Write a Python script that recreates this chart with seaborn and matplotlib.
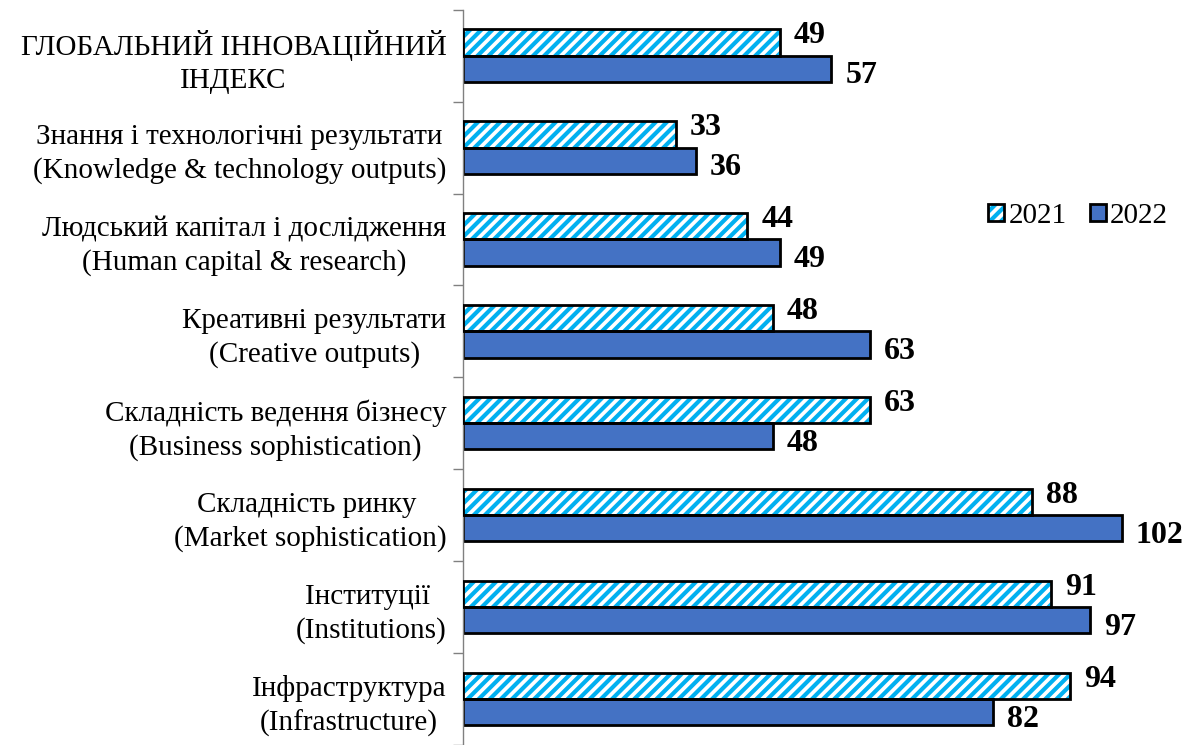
import numpy as np
import pandas as pd
import matplotlib
matplotlib.use("Agg")
import matplotlib.pyplot as plt
from matplotlib.patches import Rectangle, Patch
from matplotlib.legend_handler import HandlerTuple
from matplotlib.ticker import FixedLocator, NullLocator
import seaborn as sns

# ===== DATA =====
categories = [
    "ГЛОБАЛЬНИЙ ІННОВАЦІЙНИЙ\nІНДЕКС",
    "Знання і технологічні результати\n(Knowledge & technology outputs)",
    "Людський капітал і дослідження\n(Human capital & research)",
    "Креативні результати\n(Creative outputs)",
    "Складність ведення бізнесу\n(Business sophistication)",
    "Складність ринку \n(Market sophistication)",
    "Інституції \n(Institutions)",
    "Інфраструктура\n(Infrastructure)",
]
years = ["2021", "2022"]
values_2021 = [49, 33, 44, 48, 63, 88, 91, 94]
values_2022 = [57, 36, 49, 63, 48, 102, 97, 82]

# ===== STYLE =====
sns.set_theme(style="white")
plt.rcParams["font.family"] = ["Liberation Serif", "DejaVu Serif"]
plt.rcParams["text.color"] = "black"
plt.rcParams["hatch.linewidth"] = 3.0

hatch_blue = "#00B0F0"
solid_blue = "#4472C4"

df = pd.DataFrame({
    "category": categories * 2,
    "value": values_2021 + values_2022,
    "year": [years[0]] * len(categories) + [years[1]] * len(categories),
})

fig = plt.figure(figsize=(11.88, 7.45), dpi=100)
ax = fig.add_axes([463 / 1188, 0.0, 1 - 463 / 1188, 0.987])

sns.barplot(
    data=df, y="category", x="value", hue="year", orient="h",
    palette={years[0]: "white", years[1]: solid_blue}, saturation=1,
    width=0.57, edgecolor="black", linewidth=2, ax=ax, legend=False,
)

# hatched 2021 bars: blue hatch with a black outline on top
for p in ax.containers[0]:
    p.set_facecolor("white")
    p.set_edgecolor(hatch_blue)
    p.set_hatch("///")
    p.set_linewidth(0)
    ax.add_patch(Rectangle(p.get_xy(), p.get_width(), p.get_height(),
                           fill=False, edgecolor="black", linewidth=2, zorder=3))

# value labels, 2021 nudged up and 2022 nudged down
for cont, dy in zip(ax.containers, [5, -5]):
    texts = ax.bar_label(cont, padding=10, fontsize=23, fontweight="bold", color="black")
    for t in texts:
        t.xyann = (t.xyann[0], dy)

ax.set_xlim(0, 112.2)
ax.set_ylim(len(categories) - 0.5, -0.5)
ax.set_xlabel("")
ax.set_ylabel("")
ax.xaxis.set_major_locator(NullLocator())

for side in ["top", "right", "bottom"]:
    ax.spines[side].set_visible(False)
ax.spines["left"].set_color("#808080")
ax.spines["left"].set_linewidth(1)

ax.tick_params(axis="y", which="major", length=0, labelsize=21, pad=12)
ax.yaxis.set_minor_locator(FixedLocator(np.arange(-0.5, len(categories), 1)))
ax.tick_params(axis="y", which="minor", length=7, width=1, color="#808080", left=True)
for lbl in ax.get_yticklabels():
    lbl.set_multialignment("center")
    lbl.set_linespacing(1.35)
    lbl.set_color("black")

h2021 = (Patch(facecolor="white", edgecolor=hatch_blue, hatch="///", linewidth=0),
         Patch(fill=False, edgecolor="black", linewidth=2))
h2022 = Patch(facecolor=solid_blue, edgecolor="black", linewidth=2)
ax.legend(handles=[h2021, h2022], labels=years,
          handler_map={tuple: HandlerTuple(ndivide=1)},
          loc="center", bbox_to_anchor=((1078 - 463) / 725, 1 - 206 / 735),
          frameon=False, fontsize=21, handlelength=0.55, handleheight=0.55,
          handletextpad=0.15, columnspacing=0.8, ncol=2)

fig.savefig("out.png", dpi=100)
